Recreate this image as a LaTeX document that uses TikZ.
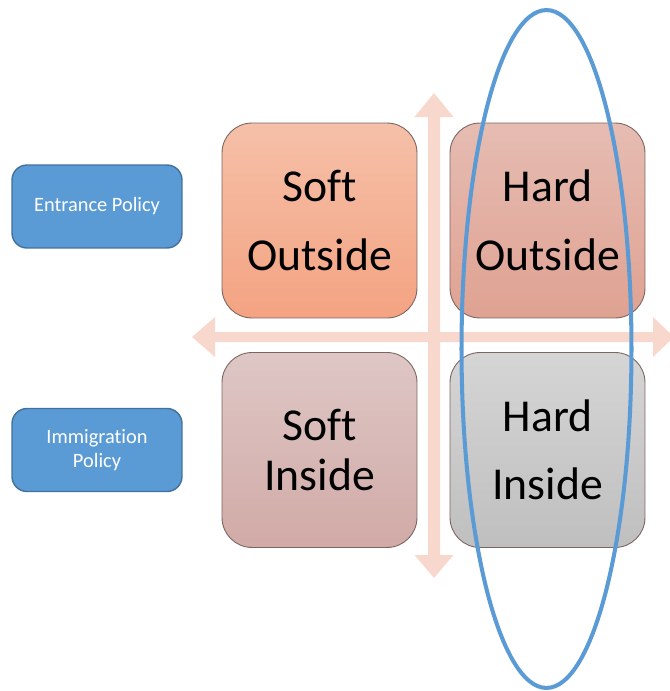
\documentclass[tikz,border=0pt]{standalone}
\usepackage{fontspec}
\setmainfont{Carlito}[Ligatures=NoCommon]
\usetikzlibrary{shapes.geometric}
\definecolor{arrowpink}{HTML}{F8D8CD}
\definecolor{polblue}{HTML}{5B9BD5}
\definecolor{polbord}{HTML}{41719C}
\definecolor{soTop}{HTML}{F5C0A8}
\definecolor{soBot}{HTML}{F4A382}
\definecolor{hoTop}{HTML}{E6BCB2}
\definecolor{hoBot}{HTML}{DFA292}
\definecolor{siTop}{HTML}{DEC7C6}
\definecolor{siBot}{HTML}{D1AAA6}
\definecolor{hiTop}{HTML}{D5D5D5}
\definecolor{hiBot}{HTML}{BFBFBF}
\definecolor{boxbord}{HTML}{7A6560}
\tikzset{
  quad/.style={rounded corners=0.6cm, draw=boxbord, line width=0.5pt,
    minimum width=3.9cm, minimum height=3.9cm, align=center, inner sep=0pt,
    font=\fontsize{26}{39}\selectfont},
  policy/.style={rounded corners=0.3cm, fill=polblue, draw=polbord, line width=0.8pt,
    minimum width=3.4cm, minimum height=1.66cm, align=center, text=white,
    font=\fontsize{11.6}{13.8}\selectfont},
  arrowfill/.style={fill=arrowpink, draw=none},
}
\begin{document}
\begin{tikzpicture}[x=0.02cm,y=-0.02cm]
\useasboundingbox (0,0) rectangle (670,691);
% arrows
\fill[arrowpink] (434,93) -- (453.5,117) -- (440,117) -- (440,555) -- (453.5,555) -- (434,578)
  -- (414.5,555) -- (428,555) -- (428,117) -- (414.5,117) -- cycle;
\fill[arrowpink] (192,337) -- (215,317) -- (215,332) -- (653,332) -- (653,317) -- (674,337)
  -- (653,357) -- (653,342) -- (215,342) -- (215,357) -- cycle;
% policy boxes
\node[policy] (entrance) at (97,206.5) {Entrance Policy};
\node[policy] (immigration) at (97,450) {Immigration\\Policy};
% quadrants
\node[quad, top color=soTop, bottom color=soBot] (so) at (319.5,220.5) {Soft\\Outside};
\node[quad, top color=hoTop, bottom color=hoBot] (ho) at (547.5,220.5) {Hard\\Outside};
\node[quad, top color=siTop, bottom color=siBot, font=\fontsize{26}{29}\selectfont] (si) at (319.5,450) {Soft\\Inside};
\node[quad, top color=hiTop, bottom color=hiBot] (hi) at (547.5,450) {Hard\\Inside};
% oval
\node[ellipse, draw=polblue, line width=2.3pt, minimum width=3.4cm, minimum height=13.56cm, inner sep=0pt] (oval) at (546.5,349) {};
\end{tikzpicture}
\end{document}
